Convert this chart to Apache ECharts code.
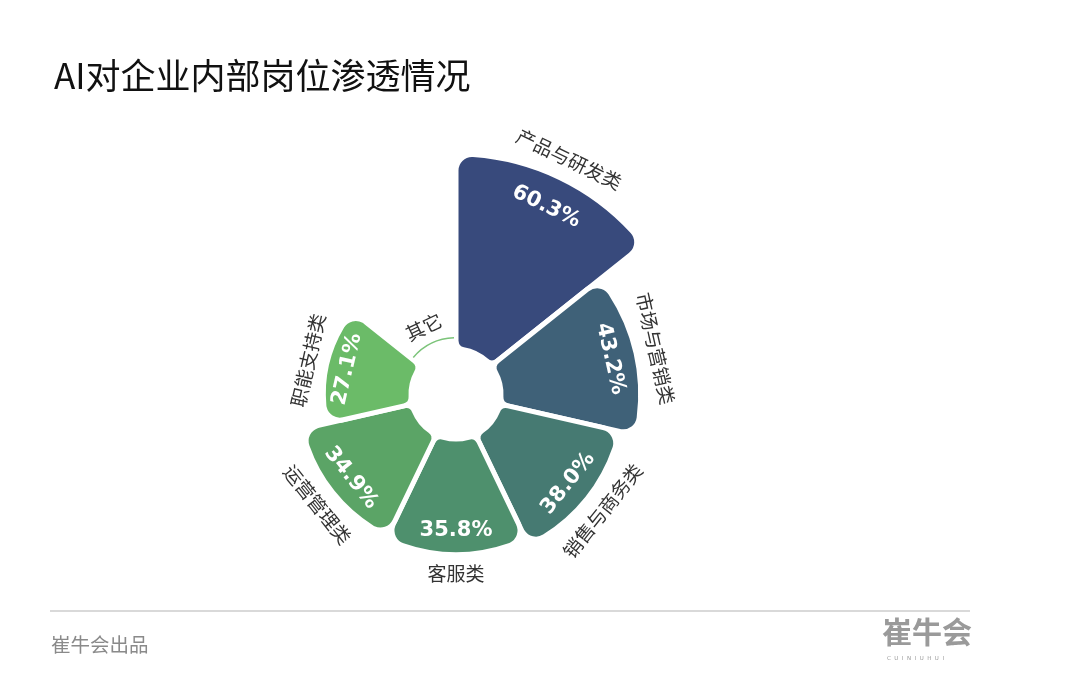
<!DOCTYPE html>
<html>
<head>
<meta charset="utf-8">
<script src="https://cdn.jsdelivr.net/npm/echarts@6/dist/echarts.min.js"></script>
<style>
html,body{margin:0;padding:0;background:#fff;}
#chart{width:1080px;height:682px;}
</style>
</head>
<body>
<div id="chart"></div>
<script>
// ---- data ----
const categories = ['产品与研发类', '市场与营销类', '销售与商务类', '客服类', '运营管理类', '职能支持类', '其它'];
const values = [60.3, 43.2, 38.0, 35.8, 34.9, 27.1, 3.5];
const sliceColors = ['#384a7c', '#3f6178', '#467a72', '#4e906d', '#5ba466', '#6bbb68', 'rgba(0,0,0,0)'];
const arcColors = ['rgba(0,0,0,0)', 'rgba(0,0,0,0)', 'rgba(0,0,0,0)', 'rgba(0,0,0,0)', 'rgba(0,0,0,0)', 'rgba(0,0,0,0)', '#7cc47a'];
const hiddenPct = ['其它'];

const FONT = '"Noto Sans CJK SC", "Noto Sans", sans-serif';
const CENTER = [456, 394];

function mkData(colors) {
  return categories.map((n, i) => ({
    name: n,
    value: values[i],
    itemStyle: colors ? { color: colors[i] } : undefined
  }));
}

const chart = echarts.init(document.getElementById('chart'), null, { renderer: 'canvas' });

const option = {
  backgroundColor: '#ffffff',
  animation: false,
  title: {
    text: 'AI对企业内部岗位渗透情况',
    left: 49,
    top: 53,
    textStyle: { fontFamily: FONT, fontSize: 35, fontWeight: 'normal', color: '#111111' }
  },
  series: [
    {
      // main slices
      type: 'pie',
      roseType: 'area',
      center: CENTER,
      radius: [45, 240],
      startAngle: 90,
      clockwise: true,
      silent: true,
      itemStyle: { borderColor: '#ffffff', borderWidth: 5, borderRadius: [9, 16] },
      label: { show: false },
      labelLine: { show: false },
      data: mkData(sliceColors),
      z: 2
    },
    {
      // thin arc for 其它
      type: 'pie',
      roseType: 'area',
      center: CENTER,
      radius: [55.5, 81.5],
      startAngle: 90,
      clockwise: true,
      padAngle: 4,
      silent: true,
      label: { show: false },
      labelLine: { show: false },
      data: mkData(arcColors),
      z: 4
    },
    {
      // percentage labels
      type: 'pie',
      roseType: 'area',
      center: CENTER,
      radius: [30, 380],
      startAngle: 90,
      clockwise: true,
      silent: true,
      itemStyle: { color: 'rgba(0,0,0,0)' },
      label: {
        show: true,
        position: 'inside',
        rotate: 'tangential',
        formatter: p => hiddenPct.indexOf(p.name) >= 0 ? '' : p.value.toFixed(1) + '%',
        fontFamily: '"DejaVu Sans", sans-serif',
        fontWeight: 'bold',
        fontSize: 21,
        color: '#ffffff'
      },
      labelLine: { show: false },
      data: mkData(null),
      z: 5
    },
    {
      // category name labels
      type: 'pie',
      roseType: 'area',
      center: CENTER,
      radius: [60, 455],
      startAngle: 90,
      clockwise: true,
      silent: true,
      itemStyle: { color: 'rgba(0,0,0,0)' },
      label: {
        show: true,
        position: 'inside',
        rotate: 'tangential',
        formatter: '{b}',
        fontFamily: FONT,
        fontSize: 19,
        color: '#333333'
      },
      labelLine: { show: false },
      data: mkData(null),
      z: 5
    }
  ],
  graphic: [
    {
      type: 'line',
      shape: { x1: 50, y1: 611, x2: 970, y2: 611 },
      style: { stroke: '#cccccc', lineWidth: 1.5 }
    },
    {
      type: 'text',
      left: 51,
      top: 635,
      style: { text: '崔牛会出品', fontFamily: FONT, fontSize: 19.5, fill: '#8a8a8a' }
    },
    {
      type: 'text',
      left: 882,
      top: 617,
      style: { text: '崔牛会', fontFamily: FONT, fontSize: 30, fontWeight: 'bold', fill: '#9a9a9a' }
    },
    {
      type: 'text',
      left: 887,
      top: 656,
      style: { text: 'C  U  I  N  I  U  H  U  I', fontFamily: 'DejaVu Sans', fontSize: 5.5, fill: '#9a9a9a' }
    }
  ]
};

chart.setOption(option);
</script>
</body>
</html>
